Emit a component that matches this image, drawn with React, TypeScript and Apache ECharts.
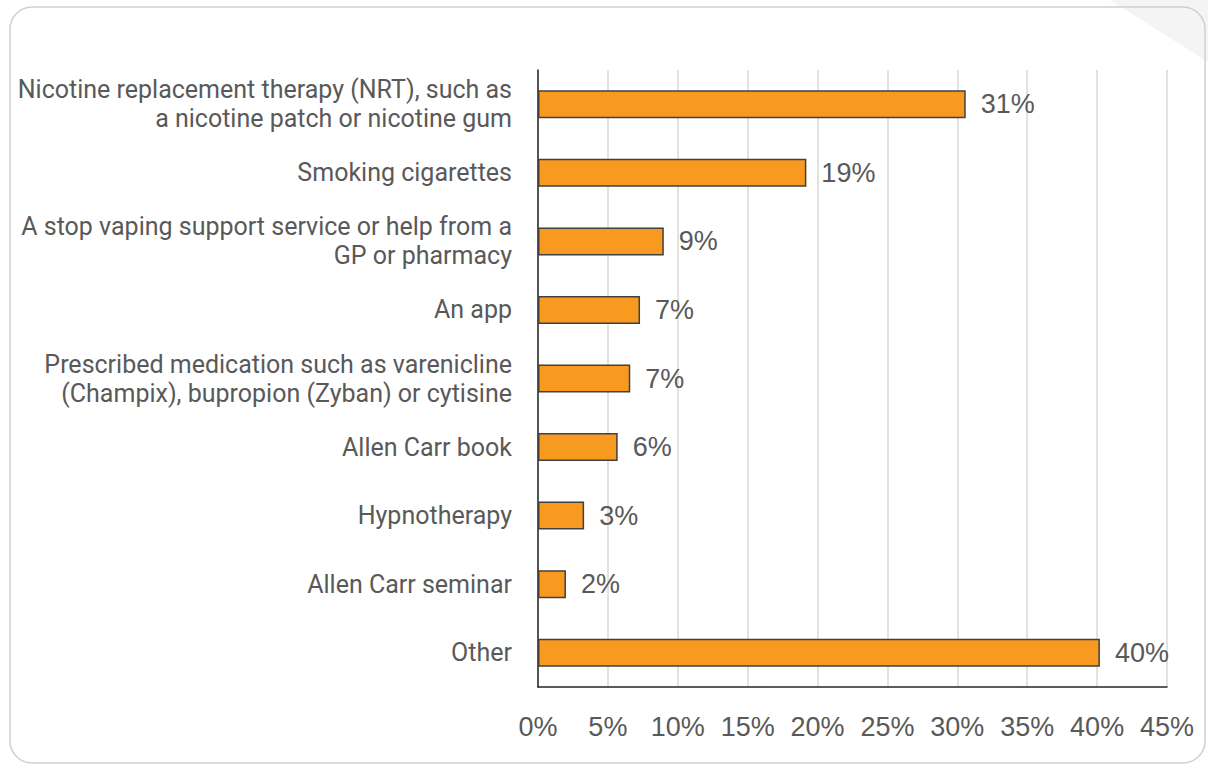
import React, { useEffect, useRef } from "react";
import * as echarts from "echarts";

const categories: string[] = [
  "Nicotine replacement therapy (NRT), such as\na nicotine patch or nicotine gum",
  "Smoking cigarettes",
  "A stop vaping support service or help from a\nGP or pharmacy",
  "An app",
  "Prescribed medication such as varenicline\n(Champix), bupropion (Zyban) or cytisine",
  "Allen Carr book",
  "Hypnotherapy",
  "Allen Carr seminar",
  "Other",
];

const values: number[] = [30.6, 19.2, 9.0, 7.3, 6.6, 5.7, 3.3, 2.0, 40.2];

const xTicks = { min: 0, max: 45, interval: 5 };

export default function App() {
  const ref = useRef<HTMLDivElement>(null);

  useEffect(() => {
    if (!ref.current) return;
    const chart = echarts.init(ref.current, undefined, { renderer: "svg" });
    chart.setOption({
      animation: false,
      backgroundColor: "#ffffff",
      graphic: [
        {
          type: "polygon",
          shape: { points: [[1110, 0], [1208, 0], [1208, 62]] },
          style: { fill: "#f4f4f4" },
          silent: true,
          z: -10,
        },
        {
          type: "rect",
          shape: { x: 10, y: 7, width: 1195, height: 756, r: 22 },
          style: { fill: "none", stroke: "#d0d0d0", lineWidth: 1.5 },
          silent: true,
        },
      ],
      grid: { left: 538, top: 70, right: 41, height: 617, containLabel: false },
      xAxis: {
        type: "value",
        min: xTicks.min,
        max: xTicks.max,
        interval: xTicks.interval,
        axisLine: { show: true, lineStyle: { color: "#262626", width: 1.5 } },
        axisTick: { show: false },
        splitLine: { show: true, lineStyle: { color: "#d9d9d9", width: 1.5 } },
        axisLabel: {
          formatter: "{value}%",
          color: "#595959",
          fontSize: 27,
          fontFamily: "Liberation Sans",
          margin: 26,
        },
      },
      yAxis: {
        type: "category",
        data: categories,
        inverse: true,
        axisLine: { show: true, onZero: false, lineStyle: { color: "#262626", width: 1.5 } },
        axisTick: { show: false },
        axisLabel: {
          color: "#595959",
          fontSize: 25,
          fontFamily: "Roboto",
          margin: 26,
          lineHeight: 29,
          align: "right",
        },
      },
      series: [
        {
          type: "bar",
          data: values,
          barWidth: 28,
          itemStyle: { color: "#f89a20", borderColor: "#404040", borderWidth: 1.5 },
          label: {
            show: true,
            position: "right",
            distance: 15,
            formatter: (p: any) => Math.round(p.value) + "%",
            color: "#595959",
            fontSize: 27,
            fontFamily: "Liberation Sans",
          },
        },
      ],
    });
    return () => chart.dispose();
  }, []);

  return (
    <div
      ref={ref}
      style={{ position: "fixed", left: 0, top: 0, width: 1208, height: 769 }}
    />
  );
}
